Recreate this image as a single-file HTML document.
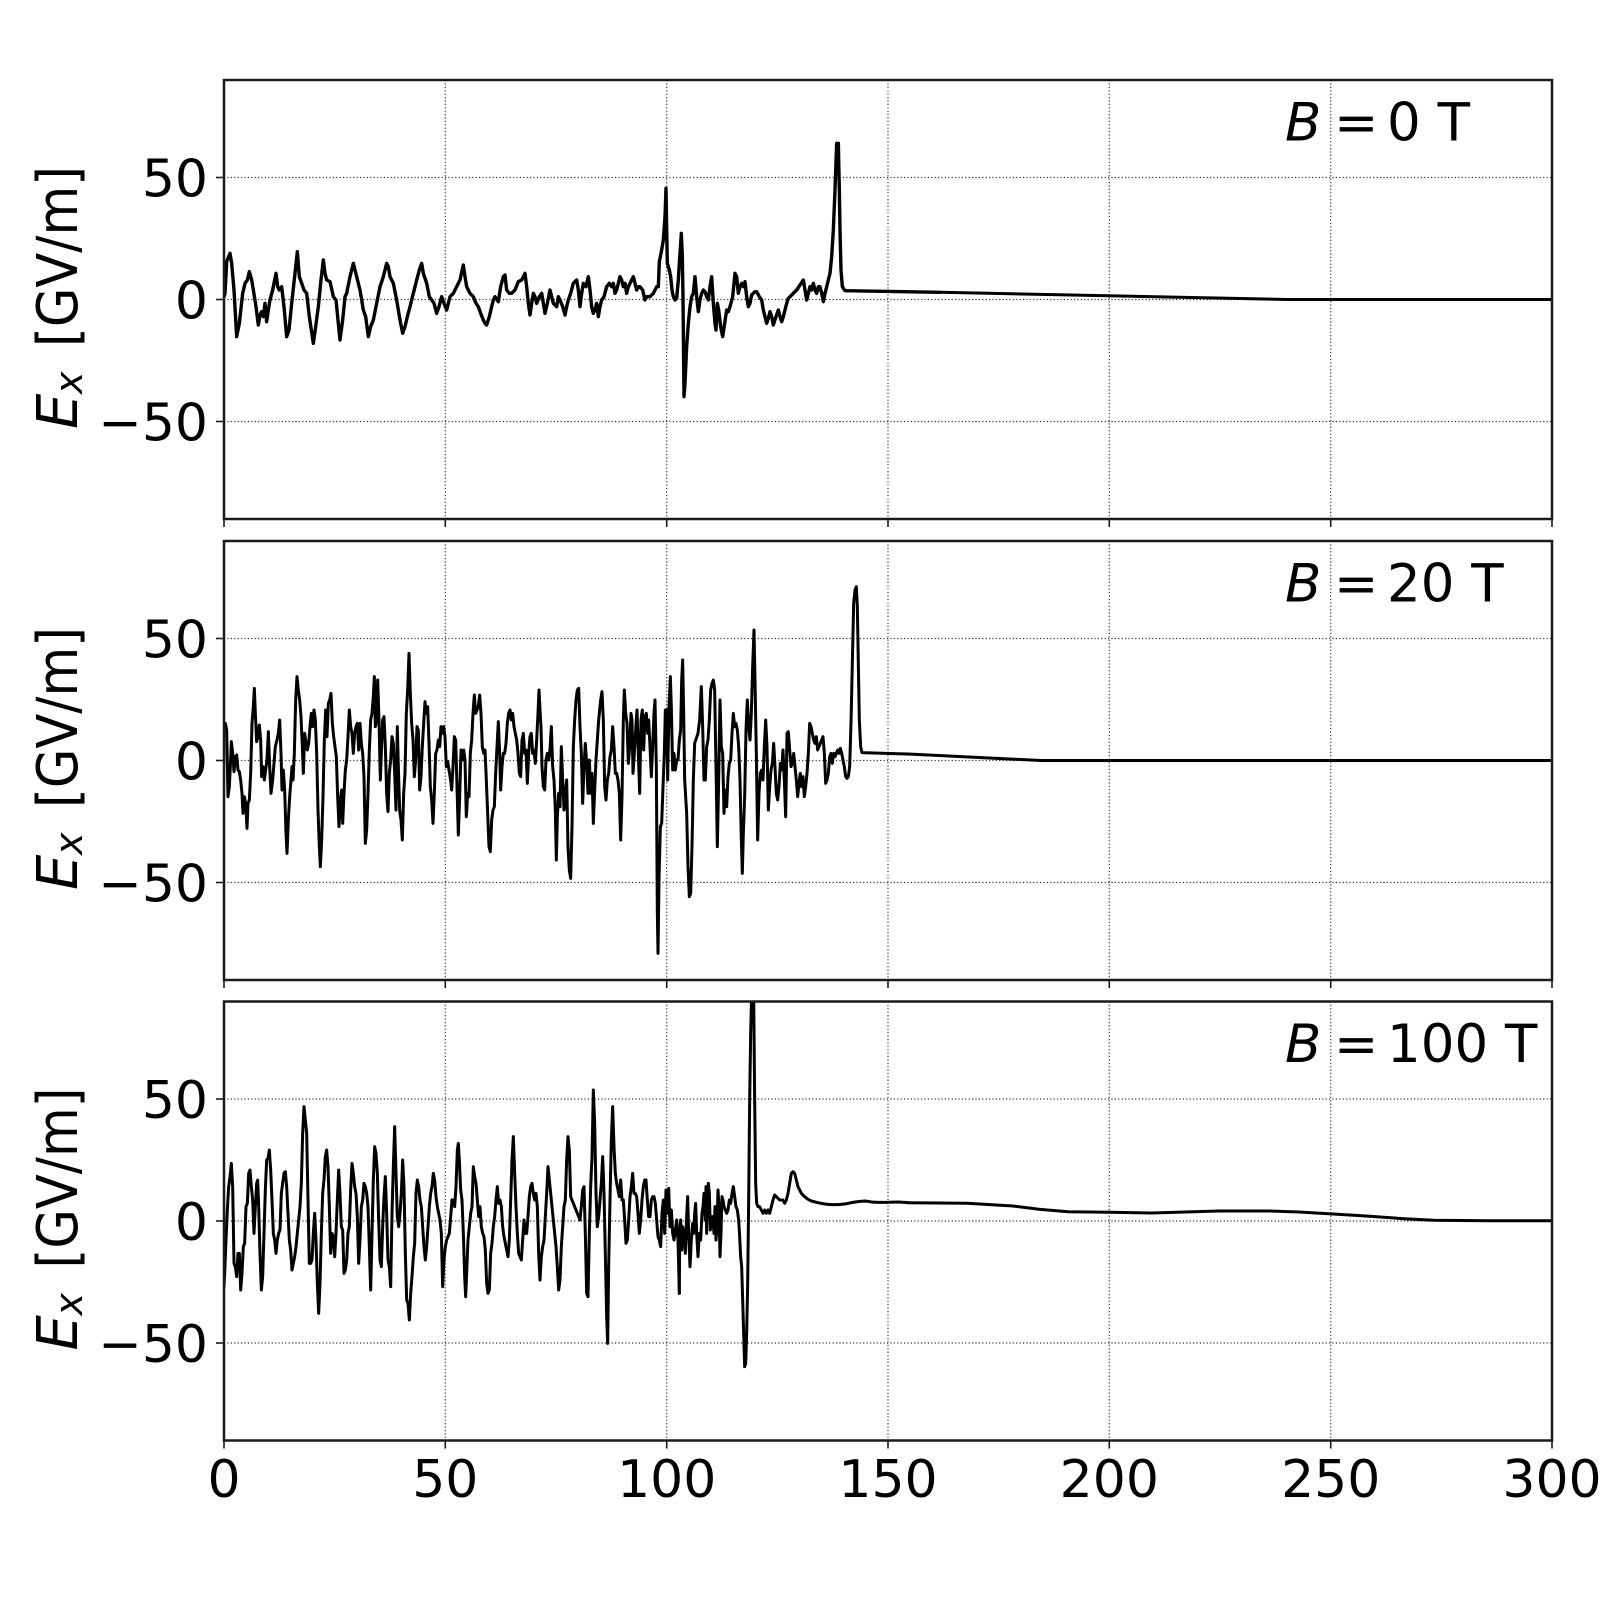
<!DOCTYPE html>
<html>
<head>
<meta charset="utf-8">
<style>
html,body{margin:0;padding:0;background:#fff;}
svg{display:block;}
text{font-family:"DejaVu Sans","Liberation Sans",sans-serif;fill:#000;}
</style>
</head>
<body>
<svg width="1600" height="1600" viewBox="0 0 1600 1600" xmlns="http://www.w3.org/2000/svg">
<defs>
<clipPath id="c1"><rect x="224" y="80" width="1328" height="439"/></clipPath>
<clipPath id="c2"><rect x="224" y="541" width="1328" height="439"/></clipPath>
<clipPath id="c3"><rect x="224" y="1001.5" width="1328" height="439"/></clipPath>
</defs>
<rect width="1600" height="1600" fill="#fff"/>

<!-- ================= GRIDS ================= -->
<g stroke="#333" stroke-width="1.2" stroke-dasharray="1.2 2.2" fill="none">
  <line x1="445.3" y1="80" x2="445.3" y2="519"/><line x1="666.7" y1="80" x2="666.7" y2="519"/>
  <line x1="888" y1="80" x2="888" y2="519"/><line x1="1109.3" y1="80" x2="1109.3" y2="519"/>
  <line x1="1330.7" y1="80" x2="1330.7" y2="519"/>
  <line x1="224" y1="177.5" x2="1552" y2="177.5"/><line x1="224" y1="299.5" x2="1552" y2="299.5"/><line x1="224" y1="421.5" x2="1552" y2="421.5"/>
  <line x1="445.3" y1="541" x2="445.3" y2="980"/><line x1="666.7" y1="541" x2="666.7" y2="980"/>
  <line x1="888" y1="541" x2="888" y2="980"/><line x1="1109.3" y1="541" x2="1109.3" y2="980"/>
  <line x1="1330.7" y1="541" x2="1330.7" y2="980"/>
  <line x1="224" y1="638.5" x2="1552" y2="638.5"/><line x1="224" y1="760.5" x2="1552" y2="760.5"/><line x1="224" y1="882.5" x2="1552" y2="882.5"/>
  <line x1="445.3" y1="1001.5" x2="445.3" y2="1440.5"/><line x1="666.7" y1="1001.5" x2="666.7" y2="1440.5"/>
  <line x1="888" y1="1001.5" x2="888" y2="1440.5"/><line x1="1109.3" y1="1001.5" x2="1109.3" y2="1440.5"/>
  <line x1="1330.7" y1="1001.5" x2="1330.7" y2="1440.5"/>
  <line x1="224" y1="1099" x2="1552" y2="1099"/><line x1="224" y1="1221" x2="1552" y2="1221"/><line x1="224" y1="1343" x2="1552" y2="1343"/>
</g>

<!-- ================= DATA ================= -->
<g fill="none" stroke="#000" stroke-width="3" stroke-linejoin="round" stroke-linecap="round">
<g clip-path="url(#c1)" stroke-width="3.4">
<polyline vector-effect="non-scaling-stroke" transform="translate(220,130) scale(0.333333)" points="12,500 15,490 20,395 30,370 35,400 42,480 50,620 58,580 68,490 75,460 82,450 88,425 95,450 100,480 108,530 115,585 120,555 125,545 130,560 135,520 140,575 145,540 150,510 158,480 168,430 173,470 178,480 185,470 192,530 200,620 207,600 215,520 225,430 232,365 238,440 245,460 252,480 260,490 268,560 280,640 287,590 295,530 303,450 310,390 315,430 320,450 330,455 340,500 348,510 355,580 360,630 368,570 375,500 380,490 390,440 400,400 405,420 410,440 420,480 430,540 437,560 445,620 452,590 460,570 470,520 480,470 490,440 500,400 505,410 510,440 515,450 520,460 530,510 540,570 548,610 555,590 562,560 570,530 580,490 590,450 598,420 605,400 610,430 620,460 628,500 635,510 642,520 650,550 657,530 665,500 672,520 680,540 690,500 700,490 710,470 720,450 730,405 735,440 740,470 750,490 760,500 768,520 775,530 782,550 790,570 795,580 800,585 808,560 815,530 820,510 825,500 835,515 842,470 850,440 855,435 860,480 868,490 875,490 885,480 895,455 905,450 915,430 920,470 925,520 930,555 935,520 940,490 945,500 950,520 958,500 965,490 970,520 975,550 982,520 990,480 995,500 1000,520 1010,530 1015,500 1020,510 1028,530 1035,555 1040,530 1045,510 1052,490 1060,460 1070,450 1075,480 1080,530 1085,490 1090,460 1098,470 1105,440 1110,480 1115,530 1120,550 1125,540 1130,520 1135,560 1140,530 1145,510 1152,500 1160,470 1168,460 1175,470 1180,460 1185,490 1190,480 1200,440 1205,450 1210,470 1215,460 1220,490 1225,470 1230,460 1240,440 1245,460 1250,480 1255,470 1260,470 1268,480 1275,510 1280,500 1290,500 1300,490 1310,470 1315,470 1318,395"/>
<polyline vector-effect="non-scaling-stroke" transform="translate(640,130) scale(0.333333)" points="58,395 65,360 70,330 75,260 78,175 80,300 82,400 88,420 92,440 96,480 100,500 105,510 110,505 115,450 118,400 124,310 127,380 129,500 131,700 132,800 135,760 140,650 145,580 150,530 155,500 160,490 165,440 170,500 175,545 180,510 185,490 190,480 195,485 200,500 205,510 210,470 215,440 220,520 225,580 228,600 232,520 236,540 242,590 248,620 254,580 260,540 265,545 270,530 278,500 285,430 290,440 295,490 300,470 305,460 310,470 315,455 320,500 325,530 330,520 335,495 340,490 345,485 350,485 358,500 365,510 370,540 375,560 380,580 385,565 390,545 395,560 400,585 408,560 415,540 420,560 425,575 430,560 435,540 440,520 445,505 450,500 460,490 470,480 480,465 490,450 495,480 500,510 505,490 510,470 515,480 520,460 525,480 530,490 535,470 540,470 545,490 550,515 555,490 560,470 565,450 570,430 575,380 580,300 585,180 590,40 595,40 598,180 600,300 603,420 607,470 615,482 900,487"/>
<polyline stroke-width="3" points="940,292.3 1286.4,299.5 1552,299.5"/>
</g>

<g clip-path="url(#c2)">
<polyline vector-effect="non-scaling-stroke" transform="translate(222,580) scale(0.333333)" points="6,440 10,430 14,450 18,650 22,620 25,560 28,485 32,520 36,575 40,530 44,525 48,570 52,575 56,600 60,640 63,700 67,650 71,670 75,745 78,670 82,660 86,580 90,430 94,380 97,325 100,400 104,485 108,470 112,435 116,480 119,590 123,560 127,600 131,570 135,540 139,455 143,560 147,640 152,600 156,550 160,500 165,480 169,460 173,420 177,520 180,630 184,570 188,630 192,760 195,820 199,720 203,650 207,600 210,560 213,600 217,520 221,360 225,290 229,330 233,360 237,410 241,500 244,580 248,460 252,490 256,510 260,490 264,440 268,400 272,440 276,390 280,420 284,520 288,690 292,800 295,860 299,780 303,650 307,480 311,390 315,470 319,370 323,360 327,340 331,430 335,470 339,500 343,530 347,650 351,740 355,660 359,630 362,730 366,640 370,570 374,540 378,470 382,390 386,440 390,460 394,520 398,460 402,440 406,430 410,510 414,430 418,490 422,520 426,590 430,790 434,750 438,640 442,510 446,420 450,400 454,350 457,290 460,440 464,420 467,300 471,420 475,600 478,520 482,420 486,410 490,500 494,640 498,695 502,580 506,540 510,470 514,490 518,580 522,690 526,440 529,560 533,690 537,720 541,780 545,640 549,580 553,400 557,330 561,220 565,340 569,430 573,480 577,590 581,540 585,440 589,450 593,630 597,590 601,500 605,430 609,365 613,400 617,380 621,490 625,620 629,660 633,730 637,640 641,520 645,510 649,480 653,500 657,440 661,460 665,440 669,470 673,560 677,545 681,570 686,600"/>
<polyline vector-effect="non-scaling-stroke" transform="translate(450,580) scale(0.333333)" points="2,600 5,630 9,560 13,470 17,480 21,620 25,765 29,650 33,510 37,540 41,510 45,540 49,710 53,640 57,650 61,520 65,480 69,400 73,345 77,400 81,390 85,380 89,345 93,400 97,500 101,520 105,510 109,600 113,700 117,800 121,815 125,720 129,690 133,680 137,580 141,500 145,425 149,520 152,630 156,560 160,520 164,520 168,490 172,430 176,400 180,390 184,420 188,400 192,440 196,460 200,480 204,520 208,580 212,590 216,480 220,460 224,520 228,510 232,610 236,520 240,470 244,460 248,520 252,510 256,550 260,480 264,400 267,330 270,390 273,440 276,560 280,620 284,630 288,540 292,520 296,540 300,510 304,440 308,560 312,600 316,690 319,840 322,710 326,640 330,680 334,500 338,600 342,690 346,640 350,600 354,800 358,870 362,895 366,740 370,500 374,420 378,360 382,330 386,325 390,440 394,520 398,670 402,560 406,490 410,550 414,640 418,540 422,640 426,580 430,730 434,630 438,540 442,480 446,420 452,360 456,335 460,420 464,620 468,660 472,600 476,580 480,530 484,510 488,440 492,500 496,580 500,580 504,600 508,640 512,780 516,650 520,420 523,330 527,400 531,430 535,550 539,500 543,400 546,420 549,580 553,520 557,450 561,390 565,520 569,640 573,420 577,390 581,510 585,410 589,400 593,460 596,420 600,500 604,590 608,500 612,400 615,360 619,560 622,1000 624,1120 627,900 631,740 635,730 639,620 643,520 646,390 650,390 653,600 657,380 661,290 664,380 668,570 672,520 676,570 680,540 684,540 688,480"/>
<polyline vector-effect="non-scaling-stroke" transform="translate(678,580) scale(0.333333)" points="4,480 8,450 11,300 14,240 17,400 20,600 23,650 26,700 30,860 34,950 38,940 42,800 46,600 50,490 55,475 60,460 65,420 70,320 74,440 78,600 82,600 86,500 90,480 94,420 98,330 102,310 106,300 110,330 114,560 118,800 122,600 126,360 130,500 134,520 138,700 142,630 146,680 150,590 154,550 158,540 162,460 166,400 170,440 174,430 178,450 182,500 186,600 190,780 193,880 196,760 200,650 204,450 208,360 212,440 216,480 220,400 224,260 228,150 231,300 235,520 239,780 243,640 247,580 251,570 255,600 259,500 263,420 267,500 271,690 275,620 279,570 283,550 287,490 291,560 295,640 299,660 303,620 307,550 311,570 315,510 319,600 323,710 327,460 331,455 335,510 339,560 343,550 347,520 351,560 355,600 359,650 363,610 367,580 371,620 375,590 379,650 383,620 387,580 391,520 395,430 399,440 403,460 407,480 411,490 415,470 419,510 423,500 427,490 431,480 435,470 439,520 443,610 447,600 451,580 455,530 459,520 463,550 467,520 471,530 475,520 479,510 483,520 487,505 491,520 495,540 499,560 503,590 507,595 511,590 515,560 519,430 523,250 527,70 531,30 535,20 538,80 541,250 544,420 548,500 552,518 690,522"/>
<polyline points="908,754 1041,760.5 1552,760.5"/>
</g>

<g clip-path="url(#c3)">
<polyline vector-effect="non-scaling-stroke" transform="translate(222,1000) scale(0.333333)" points="6,860 8,820 12,720 16,630 20,560 24,530 28,490 32,560 36,790 40,800 44,830 48,760 52,760 56,870 60,820 64,740 68,730 72,620 76,610 80,520 84,510 88,560 92,600 96,700 100,620 104,550 107,540 110,620 114,760 118,870 122,830 126,700 130,570 134,480 138,475 142,450 146,510 150,600 154,700 158,720 162,760 166,720 170,700 174,690 178,580 182,550 186,520 190,515 194,560 198,640 202,720 206,750 210,810 214,790 218,770 222,740 226,700 230,660 234,620 238,550 242,400 246,320 250,360 254,400 258,600 262,790 266,790 270,780 274,700 278,640 282,720 286,850 290,940 294,850 298,700 302,580 306,540 310,470 314,450 318,500 322,620 326,760 330,700 334,710 338,770 342,700 346,600 350,510 354,580 358,680 362,690 366,820 370,810 374,780 378,700 382,680 386,570 390,490 394,520 398,560 402,580 406,650 410,790 414,720 418,620 422,600 426,550 430,560 434,580 438,620 442,740 446,870 450,700 454,540 458,440 462,460 466,520 470,660 474,780 478,800 482,680 486,590 490,530 494,640 498,780 502,800 506,860 510,640 514,500 518,380 522,520 526,650 530,680 534,640 538,580 542,480 546,560 550,760 554,900 558,910 562,960 566,880 570,830 574,770 578,730 582,580 586,540 590,560 594,600 598,620 602,680 606,740 610,780 614,740 618,680 622,620 626,580 630,560 634,520 638,540 642,590 646,620 650,640 654,660 658,700 662,860 666,780 670,740 674,720 678,710 682,700 686,650 690,600"/>
<polyline vector-effect="non-scaling-stroke" transform="translate(450,1000) scale(0.333333)" points="6,600 10,600 14,620 18,560 22,450 25,430 28,480 32,570 36,600 40,700 44,830 47,890 50,820 54,720 58,680 62,640 66,620 70,500 74,530 78,550 82,600 86,650 90,620 94,680 98,700 102,710 106,750 110,850 114,880 118,870 122,760 126,730 130,680 134,650 138,600 142,560 146,610 150,600 154,620 158,680 162,710 166,730 170,750 174,770 178,720 182,600 186,480 190,410 194,520 198,620 202,700 206,760 210,770 214,780 218,720 222,660 226,700 230,700 234,650 238,590 242,560 246,550 250,580 254,600 258,580 262,620 266,760 270,840 274,770 278,740 282,720 286,650 290,580 294,500 298,540 302,580 306,620 310,660 314,700 318,740 322,800 326,870 330,840 334,740 338,680 342,620 346,600 350,480 354,410 358,450 362,590 366,600 370,610 374,620 378,630 382,640 386,650 390,660 394,620 398,570 402,560 406,700 410,880 414,890 418,700 422,560 426,470 430,270 434,370 438,580 442,680 446,650 450,600 454,550 458,470 462,580 466,760 470,950 473,1030 476,800 480,600 484,420 488,320 492,440 496,520 500,550 504,570 508,590 512,540 516,600 520,600 524,660 528,730 532,720 536,660 540,590 544,560 548,520 552,580 556,580 560,590 564,640 568,700 572,660 576,600 580,560 584,540 588,540 592,600 596,650 600,650 604,600 608,590 612,590 616,610 620,660 624,710 628,720 632,740 636,640 640,600 644,700 648,570 652,640 656,565 660,680 664,630 668,700 672,720 676,690 680,660 684,720 688,880"/>
<polyline vector-effect="non-scaling-stroke" transform="translate(678,1000) scale(0.333333)" points="4,880 5,700 8,660 11,750 14,680 18,700 22,760 26,650 29,590 32,700 36,800 40,720 44,670 47,700 50,640 53,610 56,700 60,770 64,700 68,720 72,640 75,620 78,580 82,660 84,560 86,700 88,600 91,550 94,580 97,690 100,650 104,650 108,700 111,620 114,720 117,680 120,570 123,620 126,770 129,700 132,590 135,600 138,620 142,630 146,640 150,630 154,600 158,610 162,580 166,560 170,590 174,620 178,630 182,660 185,710 188,770 191,800 194,900 197,1000 200,1100 203,1090 206,1000 209,850 212,600 215,300 218,100 221,-20 224,-20 227,-20 230,300 233,550 236,610 240,620 245,620 250,630 255,640 260,630 265,640 270,630 275,640 280,620 285,600 290,585 295,590 300,595 305,600 310,600 315,600 320,610 325,600 330,580 335,550 340,520 345,515 350,520 355,540 360,560 370,580 380,590 390,598 400,603 420,608 440,612 460,614 480,614 500,612 520,608 540,605 560,603 570,604 580,606 600,607 630,607 660,606 690,608"/>
<polyline points="908,1202.7 967,1203.3 1013,1206 1039,1209.3 1068,1211.7 1110,1212.3 1152,1213 1219,1211 1270,1211 1299,1212 1333,1214 1366,1216 1404,1218.7 1434,1220.3 1488,1220.7 1552,1220.7"/>
</g>
</g>

<!-- ================= SPINES & TICKS ================= -->
<g fill="none" stroke="#1a1a1a" stroke-width="2.5">
  <rect x="224" y="80" width="1328" height="439"/>
  <rect x="224" y="541" width="1328" height="439"/>
  <rect x="224" y="1001.5" width="1328" height="439"/>
</g>
<g stroke="#1a1a1a" stroke-width="1.6">
  <line x1="224" y1="519" x2="224" y2="527"/><line x1="445.3" y1="519" x2="445.3" y2="527"/><line x1="666.7" y1="519" x2="666.7" y2="527"/><line x1="888" y1="519" x2="888" y2="527"/><line x1="1109.3" y1="519" x2="1109.3" y2="527"/><line x1="1330.7" y1="519" x2="1330.7" y2="527"/><line x1="1552" y1="519" x2="1552" y2="527"/>
  <line x1="224" y1="980" x2="224" y2="988"/><line x1="445.3" y1="980" x2="445.3" y2="988"/><line x1="666.7" y1="980" x2="666.7" y2="988"/><line x1="888" y1="980" x2="888" y2="988"/><line x1="1109.3" y1="980" x2="1109.3" y2="988"/><line x1="1330.7" y1="980" x2="1330.7" y2="988"/><line x1="1552" y1="980" x2="1552" y2="988"/>
  <line x1="224" y1="1440.5" x2="224" y2="1448.5"/><line x1="445.3" y1="1440.5" x2="445.3" y2="1448.5"/><line x1="666.7" y1="1440.5" x2="666.7" y2="1448.5"/><line x1="888" y1="1440.5" x2="888" y2="1448.5"/><line x1="1109.3" y1="1440.5" x2="1109.3" y2="1448.5"/><line x1="1330.7" y1="1440.5" x2="1330.7" y2="1448.5"/><line x1="1552" y1="1440.5" x2="1552" y2="1448.5"/>
  <line x1="216" y1="177.5" x2="224" y2="177.5"/><line x1="216" y1="299.5" x2="224" y2="299.5"/><line x1="216" y1="421.5" x2="224" y2="421.5"/>
  <line x1="216" y1="638.5" x2="224" y2="638.5"/><line x1="216" y1="760.5" x2="224" y2="760.5"/><line x1="216" y1="882.5" x2="224" y2="882.5"/>
  <line x1="216" y1="1099" x2="224" y2="1099"/><line x1="216" y1="1221" x2="224" y2="1221"/><line x1="216" y1="1343" x2="224" y2="1343"/>
</g>

<!-- ================= TICK LABELS ================= -->
<g font-size="52" text-anchor="end">
  <text x="208" y="196.5">50</text><text x="208" y="318.5">0</text><text x="208" y="440.5">−50</text>
  <text x="208" y="657.5">50</text><text x="208" y="779.5">0</text><text x="208" y="901.5">−50</text>
  <text x="208" y="1118">50</text><text x="208" y="1240">0</text><text x="208" y="1362">−50</text>
</g>
<g font-size="52" text-anchor="middle">
  <text x="224" y="1497">0</text><text x="445.3" y="1497">50</text><text x="666.7" y="1497">100</text>
  <text x="888" y="1497">150</text><text x="1109.3" y="1497">200</text><text x="1330.7" y="1497">250</text>
  <text x="1552" y="1497">300</text>
</g>

<!-- ================= Y LABELS ================= -->
<g transform="translate(77,427) rotate(-90)">
  <text x="-2" y="0" font-size="56" font-style="italic">E</text>
  <text x="33" y="5" font-size="38" font-style="italic">x</text>
  <text x="80" y="0" font-size="56" textLength="181" lengthAdjust="spacingAndGlyphs">[GV/m]</text>
</g>
<g transform="translate(77,888) rotate(-90)">
  <text x="-2" y="0" font-size="56" font-style="italic">E</text>
  <text x="33" y="5" font-size="38" font-style="italic">x</text>
  <text x="80" y="0" font-size="56" textLength="181" lengthAdjust="spacingAndGlyphs">[GV/m]</text>
</g>
<g transform="translate(77,1348.5) rotate(-90)">
  <text x="-2" y="0" font-size="56" font-style="italic">E</text>
  <text x="33" y="5" font-size="38" font-style="italic">x</text>
  <text x="80" y="0" font-size="56" textLength="181" lengthAdjust="spacingAndGlyphs">[GV/m]</text>
</g>

<!-- ================= ANNOTATIONS ================= -->
<g font-size="53">
  <text x="1285" y="140.7" font-style="italic">B</text><text x="1334" y="140.7">=</text><text x="1387" y="140.7">0 T</text>
  <text x="1285" y="601.7" font-style="italic">B</text><text x="1334" y="601.7">=</text><text x="1387" y="601.7">20 T</text>
  <text x="1285" y="1062.2" font-style="italic">B</text><text x="1334" y="1062.2">=</text><text x="1387" y="1062.2">100 T</text>
</g>
</svg>
</body>
</html>
